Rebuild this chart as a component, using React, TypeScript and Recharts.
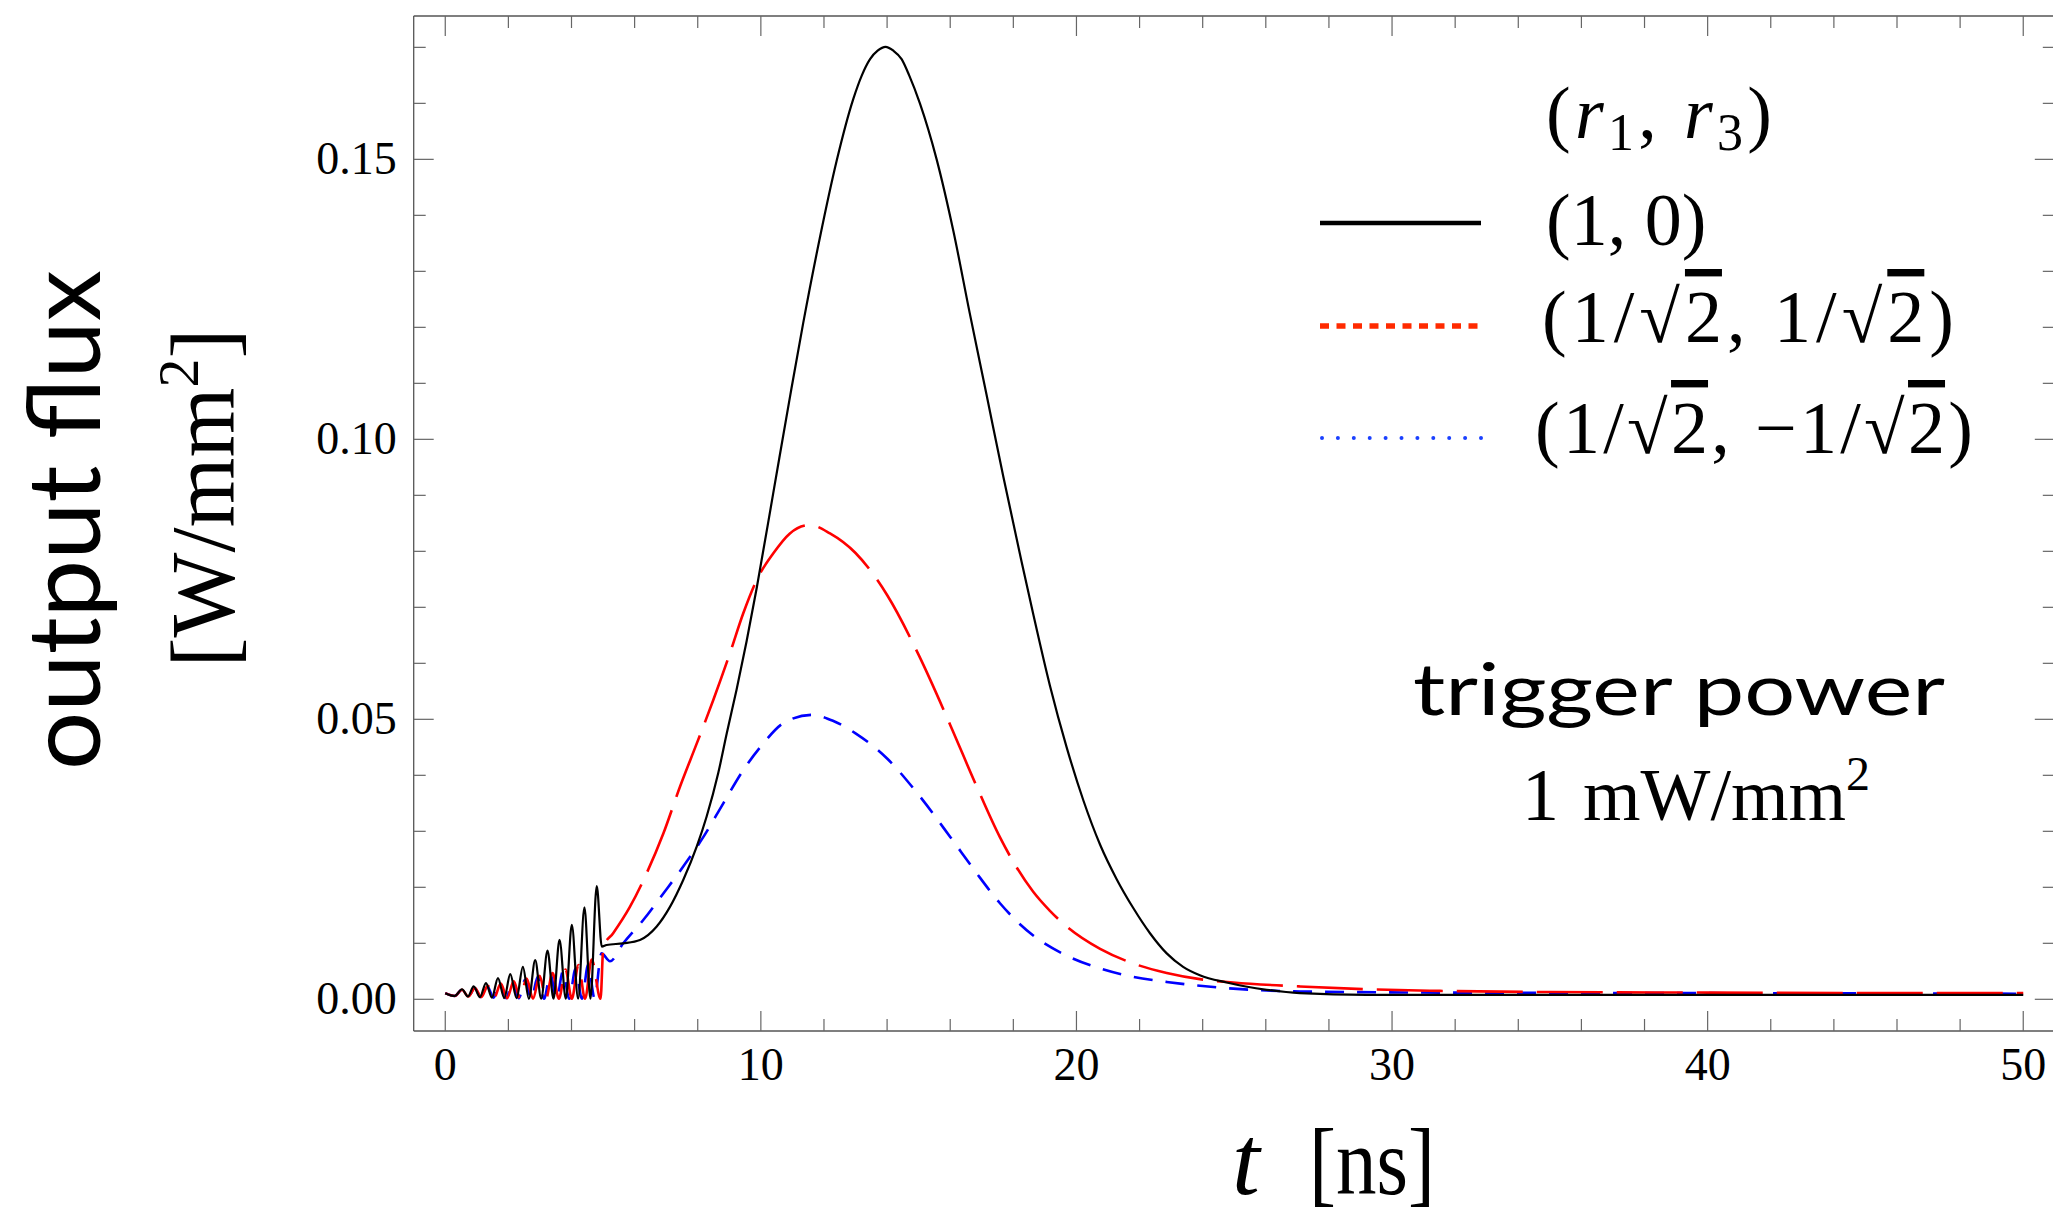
import React from 'react';
import { LineChart, Line, XAxis, YAxis } from 'recharts';

// t [ns], output flux [W/mm^2]
const FLUX_1_0: [number, number][] = [
  [0, 0.0011], [0.3, 0.0006], [0.53, 0.0018], [0.72, 0.0005], [0.9, 0.0023], [1.1, 0.0004],
  [1.29, 0.0029], [1.48, 0.0003], [1.67, 0.0038], [1.87, 0.0002], [2.06, 0.0045], [2.26, 0.0002],
  [2.46, 0.0058], [2.65, 0.0001], [2.85, 0.007], [3.04, 0.0001], [3.24, 0.0087], [3.43, 0.0001],
  [3.62, 0.0106], [3.82, 0.0001], [4.01, 0.0133], [4.21, 0.0001], [4.41, 0.0164], [4.6, 0.0001],
  [4.8, 0.0202], [4.96, 0.0094], [5.11, 0.0097], [5.64, 0.01], [6.17, 0.0106], [6.7, 0.013],
  [7.12, 0.0165], [7.54, 0.0213], [7.97, 0.0273], [8.28, 0.0326], [8.65, 0.0404], [8.92, 0.0475],
  [9.23, 0.0553], [9.55, 0.064], [9.87, 0.0735], [10.39, 0.0903], [10.92, 0.1075], [11.34, 0.1207],
  [11.87, 0.136], [12.4, 0.1497], [12.93, 0.1608], [13.2, 0.165], [13.46, 0.1679], [13.7, 0.1694],
  [13.95, 0.1701], [14.2, 0.1694], [14.46, 0.1679], [14.7, 0.165], [15.04, 0.16], [15.57, 0.15],
  [16.1, 0.1372], [16.62, 0.1225], [17.15, 0.108], [17.68, 0.0934], [18.26, 0.0782], [18.63, 0.0688],
  [19.16, 0.056], [19.69, 0.045], [20.22, 0.0355], [20.75, 0.0276], [21.27, 0.0215], [21.8, 0.0163],
  [22.33, 0.0118], [22.86, 0.0082], [23.38, 0.0058], [23.91, 0.0043], [24.76, 0.003], [26.03, 0.0017],
  [27.08, 0.0011], [29.19, 0.0008], [35, 0.0008], [40, 0.0008], [45, 0.0008], [50, 0.0008],
];

const FLUX_SYM: [number, number][] = [
  [0, 0.0011], [0.3, 0.0006], [0.53, 0.0017], [0.73, 0.0005], [0.94, 0.002], [1.14, 0.0004],
  [1.35, 0.0024], [1.55, 0.0003], [1.76, 0.0028], [1.96, 0.0002], [2.17, 0.0032], [2.37, 0.0002],
  [2.58, 0.0037], [2.78, 0.0001], [2.99, 0.0042], [3.19, 0.0001], [3.4, 0.0047], [3.6, 0.0001],
  [3.81, 0.0053], [4.01, 0.0001], [4.22, 0.0061], [4.43, 0.0001], [4.64, 0.0071], [4.92, 0.0001],
  [5.01, 0.0094], [5.32, 0.0118], [5.85, 0.0165], [6.38, 0.0225], [6.91, 0.0296], [7.44, 0.038],
  [7.97, 0.0457], [8.49, 0.0534], [9.02, 0.0618], [9.44, 0.0689], [9.87, 0.0749], [10.39, 0.0796],
  [10.92, 0.0832], [11.55, 0.0847], [12.19, 0.0832], [13, 0.0797], [14, 0.0722], [15, 0.0615],
  [16, 0.049], [16.8, 0.0385], [17.57, 0.029], [18.1, 0.0236], [18.63, 0.0192], [19.16, 0.0158],
  [19.69, 0.013], [20.75, 0.009], [21.8, 0.0064], [22.86, 0.0047], [23.91, 0.0036], [24.97, 0.003],
  [27.08, 0.0023], [29.19, 0.0018], [31.52, 0.0015], [35, 0.0013], [40, 0.0012], [45, 0.0011],
  [50, 0.0011],
];

const FLUX_ANTI: [number, number][] = [
  [0, 0.0011], [0.3, 0.0006], [0.53, 0.0017], [0.73, 0.0005], [0.93, 0.002], [1.13, 0.0004],
  [1.33, 0.0023], [1.53, 0.0003], [1.73, 0.0027], [1.93, 0.0002], [2.13, 0.0031], [2.33, 0.0002],
  [2.53, 0.0035], [2.73, 0.0001], [2.93, 0.004], [3.13, 0.0001], [3.33, 0.0045], [3.53, 0.0001],
  [3.73, 0.005], [3.93, 0.0001], [4.13, 0.0055], [4.33, 0.0001], [4.53, 0.0062], [4.73, 0.0002],
  [4.95, 0.0082], [5.22, 0.0068], [5.64, 0.01], [6.28, 0.0142], [6.91, 0.0189], [7.54, 0.0237],
  [8.18, 0.029], [8.81, 0.035], [9.44, 0.0409], [10.08, 0.0457], [10.71, 0.0493], [11.61, 0.0508],
  [12.3, 0.0497], [13, 0.0475], [14, 0.043], [15, 0.0365], [16, 0.029], [16.8, 0.0228],
  [17.57, 0.0172], [18.1, 0.014], [18.63, 0.0114], [19.69, 0.0078], [20.75, 0.0055], [21.8, 0.004],
  [22.86, 0.0031], [24.97, 0.0019], [27.08, 0.0014], [31.52, 0.0012], [40, 0.0011], [50, 0.001],
];

const X_TICKS = [0, 2, 4, 6, 8, 10, 12, 14, 16, 18, 20, 22, 24, 26, 28, 30, 32, 34, 36, 38, 40, 42, 44, 46, 48, 50];
const X_LABELS = [0, 10, 20, 30, 40, 50];
const Y_TICKS = [0, 0.01, 0.02, 0.03, 0.04, 0.05, 0.06, 0.07, 0.08, 0.09, 0.1, 0.11, 0.12, 0.13, 0.14, 0.15, 0.16, 0.17];
const Y_LABELS = [0, 0.05, 0.1, 0.15];

const SERIF = "'Liberation Serif', 'DejaVu Serif', serif";
const SANS = "Lato, 'Open Sans', sans-serif";
const FRAME = '#555';
const TICK = '#666';

const toRows = (pts: [number, number][]) => pts.map(([t, v]) => ({ t, v }));

const isMajor = (list: number[], v: number) => list.some((m) => Math.abs(m - v) < 1e-9);

const BottomTick = ({ x, y, payload }: any) => {
  const major = isMajor(X_LABELS, payload.value);
  return (
    <g>
      <line x1={x} x2={x} y1={y} y2={y - (major ? 20 : 12)} stroke={TICK} strokeWidth={1.2} />
      {major && (
        <text x={x} y={y + 49} textAnchor="middle" fontFamily={SERIF} fontSize={46} fill="#000">
          {payload.value}
        </text>
      )}
    </g>
  );
};

const TopTick = ({ x, y, payload }: any) => {
  const major = isMajor(X_LABELS, payload.value);
  return <line x1={x} x2={x} y1={y} y2={y + (major ? 20 : 12)} stroke={TICK} strokeWidth={1.2} />;
};

const LeftTick = ({ x, y, payload }: any) => {
  const major = isMajor(Y_LABELS, payload.value);
  return (
    <g>
      <line x1={x} x2={x + (major ? 20 : 12)} y1={y} y2={y} stroke={TICK} strokeWidth={1.2} />
      {major && (
        <text x={x - 17} y={y + 15} textAnchor="end" fontFamily={SERIF} fontSize={46} fill="#000">
          {payload.value.toFixed(2)}
        </text>
      )}
    </g>
  );
};

const RightTick = ({ x, y, payload }: any) => {
  const major = isMajor(Y_LABELS, payload.value);
  return <line x1={x} x2={x - (major ? 20 : 12)} y1={y} y2={y} stroke={TICK} strokeWidth={1.2} />;
};

const sqrt2 = (
  <>
    √<tspan textDecoration="overline" style={{ textDecorationThickness: '2px' }}>2</tspan>
  </>
);

export default function App() {
  return (
    <div style={{ position: 'absolute', left: 0, top: 0, width: 2053, height: 1217, overflow: 'hidden', background: '#fff' }}>
      <LineChart width={2060} height={1217} margin={{ top: 15, right: 4.2, bottom: 185, left: 412.7 }}>
        <XAxis
          xAxisId="b" dataKey="t" type="number" domain={[-1, 51]} allowDataOverflow
          ticks={X_TICKS} interval={0} height={1} tickSize={0} tickMargin={0} tickLine={false}
          axisLine={{ stroke: FRAME, strokeWidth: 1.3 }} tick={<BottomTick />}
        />
        <XAxis
          xAxisId="t" orientation="top" dataKey="t" type="number" domain={[-1, 51]} allowDataOverflow
          ticks={X_TICKS} interval={0} height={1} tickSize={0} tickMargin={0} tickLine={false}
          axisLine={{ stroke: FRAME, strokeWidth: 1.3 }} tick={<TopTick />}
        />
        <YAxis
          yAxisId="l" type="number" domain={[-0.00566, 0.1756]} allowDataOverflow
          ticks={Y_TICKS} interval={0} width={1} tickSize={0} tickMargin={0} tickLine={false}
          axisLine={{ stroke: FRAME, strokeWidth: 1.3 }} tick={<LeftTick />}
        />
        <YAxis
          yAxisId="r" orientation="right" type="number" domain={[-0.00566, 0.1756]} allowDataOverflow
          ticks={Y_TICKS} interval={0} width={1} tickSize={0} tickMargin={0} tickLine={false}
          axisLine={{ stroke: FRAME, strokeWidth: 1.3 }} tick={<RightTick />}
        />
        <Line
          xAxisId="b" yAxisId="l" data={toRows(FLUX_ANTI)} dataKey="v" type="monotone"
          stroke="#0000ff" strokeWidth={2.6} strokeDasharray="19 13" dot={false} isAnimationActive={false}
        />
        <Line
          xAxisId="b" yAxisId="l" data={toRows(FLUX_SYM)} dataKey="v" type="monotone"
          stroke="#ff0000" strokeWidth={2.6} strokeDasharray="66 14" dot={false} isAnimationActive={false}
        />
        <Line
          xAxisId="b" yAxisId="l" data={toRows(FLUX_1_0)} dataKey="v" type="monotone"
          stroke="#000" strokeWidth={2.2} dot={false} isAnimationActive={false}
        />
      </LineChart>

      <svg width={2053} height={1217} style={{ position: 'absolute', left: 0, top: 0, pointerEvents: 'none' }}>
        {/* axis titles */}
        <text transform="translate(100, 520) rotate(-90)" textAnchor="middle" fontFamily={SANS} fontSize={100}
          textLength={500} lengthAdjust="spacingAndGlyphs" fill="#000">output flux</text>
        <text transform="translate(234, 498) rotate(-90)" textAnchor="middle" fontFamily={SERIF} fontSize={90}
          fill="#000">[W/mm<tspan fontSize={58} dy={-36}>2</tspan><tspan dy={36}>]</tspan></text>
        <text x={1232} y={1194} fontFamily={SERIF} fontSize={100} fontStyle="italic" fill="#000">t</text>
        <text x={1309} y={1194} fontFamily={SERIF} fontSize={96} textLength={126} lengthAdjust="spacingAndGlyphs" fill="#000">[ns]</text>

        {/* legend */}
        <text x={1546} y={138} fontFamily={SERIF} fontSize={74} textLength={226} lengthAdjust="spacing" fill="#000">
          (<tspan fontStyle="italic">r</tspan><tspan fontSize={52} dy={12}>1</tspan><tspan dy={-12}>, </tspan>
          <tspan fontStyle="italic">r</tspan><tspan fontSize={52} dy={12}>3</tspan><tspan dy={-12}>)</tspan>
        </text>
        <line x1={1320} x2={1481} y1={223} y2={223} stroke="#000" strokeWidth={4.5} />
        <text x={1546} y={245} fontFamily={SERIF} fontSize={74} fill="#000">(1, 0)</text>
        <line x1={1320} x2={1481} y1={326} y2={326} stroke="#ff2a00" strokeWidth={5.5} strokeDasharray="9 7.5" />
        <text x={1542} y={342} fontFamily={SERIF} fontSize={74} textLength={412} lengthAdjust="spacing" fill="#000">(1/{sqrt2}, 1/{sqrt2})</text>
        <line x1={1322} x2={1481} y1={438} y2={438} stroke="#1a40ff" strokeWidth={4} strokeDasharray="0 15.9" strokeLinecap="round" />
        <text x={1535} y={453} fontFamily={SERIF} fontSize={74} textLength={438} lengthAdjust="spacing" fill="#000">(1/{sqrt2}, −1/{sqrt2})</text>

        {/* annotation */}
        <text x={1413} y={715} fontFamily={SANS} fontSize={72} textLength={532} lengthAdjust="spacingAndGlyphs" fill="#000">trigger power</text>
        <text x={1522} y={820} fontFamily={SERIF} fontSize={74} fill="#000">
          1<tspan dx={24}>mW/mm</tspan><tspan fontSize={48} dy={-30}>2</tspan>
        </text>
      </svg>
    </div>
  );
}
